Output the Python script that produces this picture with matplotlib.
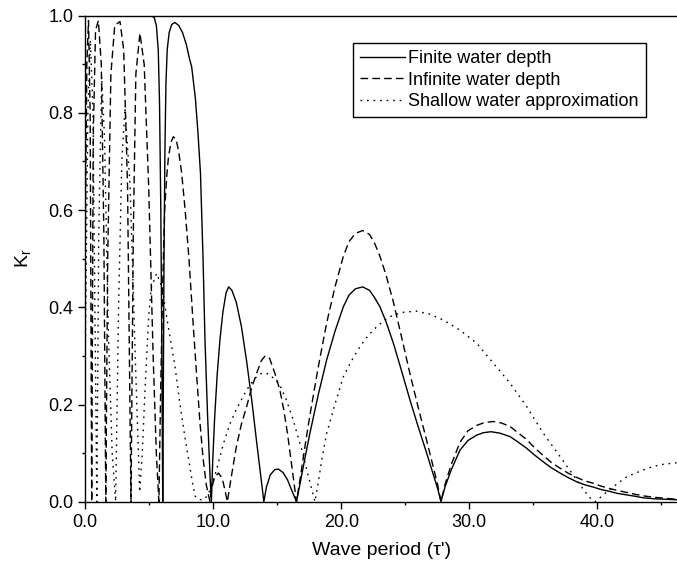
import matplotlib
matplotlib.use("Agg")
import matplotlib.pyplot as plt
from matplotlib.ticker import MultipleLocator, FormatStrFormatter

plt.rcParams.update({"font.family": ["Liberation Sans", "DejaVu Sans"], "font.size": 13})

# finite water depth (solid)
finite_t = [0.0, 5.2, 5.4, 5.55, 5.7, 5.8, 5.9, 5.97, 6.05, 6.1, 6.15, 6.22, 6.3, 6.4, 6.55,
            6.75, 7.0, 7.3, 7.6, 7.9, 8.15, 8.31, 8.6, 8.8, 9.0, 9.2, 9.35, 9.55, 9.75, 9.85,
            9.95, 10.1, 10.3, 10.52, 10.75, 11.0, 11.2, 11.45, 11.8, 12.2, 12.6, 13.0, 13.4,
            13.7, 13.95, 14.15, 14.45, 14.8, 15.1, 15.45, 15.8, 16.15, 16.5, 16.8, 17.2, 17.55,
            18.2, 18.86, 19.5, 20.16, 20.6, 21.1, 21.67, 22.2, 22.6, 23.02, 23.5, 24.06, 24.7,
            25.37, 26.0, 26.67, 27.2, 27.55, 27.79, 28.1, 28.6, 29.27, 29.9, 30.58, 31.1, 31.7,
            32.4, 33.18, 33.8, 34.48, 35.1, 35.78, 36.4, 37.09, 37.7, 38.39, 39.0, 39.69, 40.3,
            40.99, 41.6, 42.3, 43.0, 43.59, 44.5, 45.3, 46.2]
finite_kr = [1.0, 1.0, 0.995, 0.98, 0.93, 0.82, 0.6, 0.35, 0.0, 0.25, 0.5, 0.72, 0.86, 0.93,
             0.965, 0.982, 0.986, 0.98, 0.965, 0.94, 0.91, 0.895, 0.83, 0.76, 0.675, 0.5, 0.333,
             0.18, 0.05, 0.0, 0.08, 0.17, 0.26, 0.333, 0.39, 0.43, 0.442, 0.435, 0.41, 0.36,
             0.29, 0.21, 0.12, 0.055, 0.0, 0.03, 0.055, 0.066, 0.067, 0.06, 0.045, 0.022, 0.0,
             0.04, 0.095, 0.141, 0.22, 0.292, 0.35, 0.401, 0.425, 0.438, 0.442, 0.435, 0.42,
             0.401, 0.37, 0.327, 0.27, 0.209, 0.155, 0.10, 0.055, 0.025, 0.0, 0.03, 0.066, 0.106,
             0.126, 0.137, 0.142, 0.144, 0.141, 0.134, 0.123, 0.11, 0.096, 0.082, 0.07, 0.059,
             0.05, 0.041, 0.035, 0.030, 0.025, 0.021, 0.017, 0.014, 0.011, 0.008, 0.006, 0.005,
             0.004]

# infinite water depth (dashed)
infinite_t = [0.0, 0.12, 0.25, 0.38, 0.5, 0.62, 0.8, 1.02, 1.25, 1.45, 1.6, 1.75, 2.0, 2.3,
              2.71, 3.0, 3.3, 3.57, 3.75, 3.95, 4.27, 4.6, 4.95, 5.3, 5.55, 5.75, 5.9, 6.05,
              6.2, 6.36, 6.5, 6.7, 6.88, 7.1, 7.3, 7.53, 7.8, 8.1, 8.44, 8.7, 8.96, 9.2, 9.45,
              9.74, 9.9, 10.1, 10.4, 10.7, 10.9, 11.1, 11.4, 11.8, 12.2, 12.6, 13.0, 13.4,
              13.75, 14.05, 14.4, 14.8, 15.2, 15.5, 15.8, 16.1, 16.3, 16.5, 16.8, 17.2, 17.55,
              18.2, 18.86, 19.5, 20.16, 20.6, 21.1, 21.67, 22.2, 22.6, 23.02, 23.5, 24.06, 24.7,
              25.37, 26.0, 26.67, 27.2, 27.55, 27.79, 28.1, 28.6, 29.27, 29.9, 30.58, 31.2,
              31.9, 32.5, 33.18, 33.8, 34.48, 35.1, 35.78, 36.4, 37.09, 37.7, 38.39, 39.0,
              39.69, 40.3, 40.99, 41.6, 42.3, 43.0, 43.59, 44.5, 45.3, 46.2]
infinite_kr = [0.55, 0.9, 0.99, 0.8, 0.0, 0.75, 0.97, 0.99, 0.9, 0.55, 0.0, 0.5, 0.88, 0.98,
               0.988, 0.93, 0.65, 0.0, 0.55, 0.88, 0.964, 0.9, 0.65, 0.3, 0.1, 0.0, 0.25, 0.45,
               0.6, 0.669, 0.71, 0.74, 0.751, 0.745, 0.72, 0.676, 0.6, 0.5, 0.36, 0.26, 0.162,
               0.09, 0.035, 0.0, 0.03, 0.05, 0.059, 0.048, 0.025, 0.0, 0.05, 0.113, 0.16, 0.195,
               0.235, 0.265, 0.29, 0.30, 0.295, 0.265, 0.23, 0.19, 0.14, 0.08, 0.04, 0.0, 0.05,
               0.12, 0.178, 0.277, 0.368, 0.441, 0.505, 0.535, 0.552, 0.558, 0.55, 0.532, 0.505,
               0.466, 0.412, 0.34, 0.263, 0.195, 0.126, 0.07, 0.032, 0.0, 0.035, 0.077, 0.122,
               0.146, 0.157, 0.163, 0.165, 0.162, 0.155, 0.142, 0.128, 0.111, 0.095, 0.081,
               0.069, 0.059, 0.05, 0.043, 0.038, 0.032, 0.027, 0.023, 0.019, 0.015, 0.012, 0.009,
               0.007, 0.005]

# shallow water approximation (dotted)
shallow_t = [0.0, 0.2, 0.4, 0.6, 0.9, 1.05, 1.28, 1.5, 1.8, 2.1, 2.37, 2.6, 2.85, 3.1, 3.5,
             3.9, 4.25, 4.45, 4.7, 4.95, 5.15, 5.58, 6.0, 6.48, 7.0, 7.4, 7.8, 8.18, 8.4, 8.57,
             8.9, 9.3, 9.6, 9.9, 10.3, 10.8, 11.3, 11.8, 12.3, 12.8, 13.3, 13.8, 14.3, 14.8,
             15.2, 15.7, 16.25, 16.6, 17.0, 17.35, 17.7, 17.95, 18.2, 18.5, 18.86, 19.5, 20.16,
             20.8, 21.46, 22.1, 22.77, 23.4, 24.06, 24.9, 25.89, 26.9, 27.97, 29.27, 30.58,
             31.88, 33.18, 34.48, 35.78, 37.09, 38.39, 39.0, 39.5, 39.82, 40.2, 40.6, 40.99,
             41.6, 42.3, 43.0, 43.59, 44.2, 44.9, 45.5, 46.2]
shallow_kr = [0.3, 0.8, 0.95, 0.8, 0.0, 0.55, 0.875, 0.75, 0.35, 0.1, 0.0, 0.4, 0.7, 0.81,
              0.65, 0.3, 0.02, 0.1, 0.25, 0.38, 0.44, 0.47, 0.44, 0.36, 0.28, 0.2, 0.13, 0.07,
              0.035, 0.012, 0.004, 0.005, 0.015, 0.035, 0.07, 0.12, 0.16, 0.19, 0.215, 0.238,
              0.255, 0.265, 0.263, 0.252, 0.24, 0.21, 0.168, 0.135, 0.10, 0.06, 0.025, 0.0, 0.04,
              0.09, 0.141, 0.2, 0.257, 0.29, 0.319, 0.342, 0.36, 0.374, 0.384, 0.39, 0.392,
              0.386, 0.374, 0.353, 0.326, 0.285, 0.244, 0.196, 0.141, 0.093, 0.045, 0.022,
              0.006, 0.0, 0.008, 0.017, 0.024, 0.038, 0.051, 0.059, 0.065, 0.071, 0.076, 0.078,
              0.080]

fig = plt.figure(figsize=(6.77, 5.72), dpi=100)
ax = fig.add_axes([85.3 / 677, 70.3 / 572, 591.7 / 677, 486 / 572])

ax.plot(finite_t, finite_kr, color="black", lw=1.0, label="Finite water depth")
ax.plot(infinite_t, infinite_kr, color="black", lw=1.0, dashes=(5.5, 3),
        label="Infinite water depth")
ax.plot(shallow_t, shallow_kr, color="black", lw=1.0, dashes=(1.2, 3.5),
        label="Shallow water approximation")

ax.set_xlim(0, 46.23)
ax.set_ylim(0, 1)
ax.spines["right"].set_visible(False)
for s in ["left", "bottom", "top"]:
    ax.spines[s].set_linewidth(1.0)

ax.xaxis.set_major_locator(MultipleLocator(10))
ax.xaxis.set_minor_locator(MultipleLocator(5))
ax.yaxis.set_major_locator(MultipleLocator(0.2))
ax.yaxis.set_minor_locator(MultipleLocator(0.1))
ax.xaxis.set_major_formatter(FormatStrFormatter("%.1f"))
ax.yaxis.set_major_formatter(FormatStrFormatter("%.1f"))
ax.tick_params(which="major", direction="out", length=5, width=1, labelsize=13)
ax.tick_params(which="minor", direction="out", length=2.5, width=1)
ax.tick_params(top=False, right=False, which="both")

ax.set_xlabel("Wave period (τ')", fontsize=14, labelpad=8)
ax.set_ylabel("K$_\\mathregular{r}$", fontsize=14, labelpad=10)

leg = ax.legend(loc="upper left", bbox_to_anchor=(0.452, 0.944), borderaxespad=0,
                fancybox=False, edgecolor="black", framealpha=1, fontsize=13,
                handlelength=2.5, handletextpad=0.15, labelspacing=0.25, borderpad=0.4)
leg.get_frame().set_linewidth(1.0)

fig.savefig("out.png", dpi=100)
